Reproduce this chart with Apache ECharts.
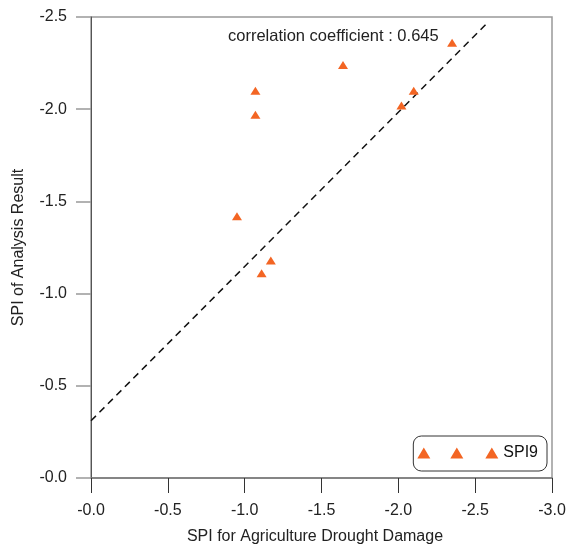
<!DOCTYPE html>
<html>
<head>
<meta charset="utf-8">
<script src="https://cdn.jsdelivr.net/npm/echarts@6/dist/echarts.min.js"></script>
<style>
  html, body { margin: 0; padding: 0; background: #fff; }
  #chart { width: 568px; height: 548px; }
</style>
</head>
<body>
<div id="chart"></div>
<script>
// SPI for agriculture drought damage (x) vs SPI of analysis result (y)
const damageSPI = [-1.07, -1.07, -0.95, -1.17, -1.11, -1.64, -2.35, -2.10, -2.02];
const analysisSPI = [-2.10, -1.97, -1.42, -1.18, -1.11, -2.24, -2.36, -2.10, -2.02];
// dashed fit line end points
const fitX = [0, -2.57];
const fitY = [-0.31, -2.46];
const tickValues = [0, -0.5, -1.0, -1.5, -2.0, -2.5, -3.0];
const seriesName = 'SPI9';
const correlationText = 'correlation coefficient : 0.645';

const FONT = '"Liberation Sans", Arial, sans-serif';
const FS = 16;
const ORANGE = '#F36523';
const fmt = v => '-' + Math.abs(v).toFixed(1);

const chart = echarts.init(document.getElementById('chart'));
chart.setOption({
  animation: false,
  backgroundColor: '#fff',
  textStyle: { fontFamily: FONT },
  title: {
    text: correlationText,
    left: 223, top: 23,
    textStyle: { fontFamily: FONT, fontSize: 16.5, fontWeight: 'normal', color: '#222' }
  },
  grid: {
    left: 91, right: 16, top: 17, bottom: 70,
    containLabel: false, outerBoundsMode: 'none',
    show: true, borderColor: '#999', borderWidth: 1.5, backgroundColor: 'transparent'
  },
  legend: {
    right: 21, bottom: 77,
    padding: [9, 9, 10, 4],
    borderColor: '#333', borderWidth: 1, borderRadius: 8,
    itemWidth: 81, itemHeight: 11,
    icon: 'path://M0,11L6.5,0L13,11Z M33,11L39.5,0L46,11Z M68,11L74.5,0L81,11Z',
    textStyle: { fontFamily: FONT, fontSize: FS, color: '#111' },
    data: [seriesName]
  },
  xAxis: {
    type: 'value', inverse: true, min: -3, max: 0, interval: 0.5,
    name: 'SPI for Agriculture Drought Damage', nameLocation: 'middle', nameGap: 51,
    nameTextStyle: { fontFamily: FONT, fontSize: FS, color: '#222', padding: [0, 13, 0, 0] },
    axisLine: { show: true, lineStyle: { color: '#777', width: 1.5 } },
    axisTick: { show: true, inside: false, length: 15, lineStyle: { color: '#333', width: 1 } },
    axisLabel: { formatter: fmt, margin: 25, fontFamily: FONT, fontSize: FS, color: '#222' },
    splitLine: { show: false }
  },
  yAxis: {
    type: 'value', inverse: true, min: -2.5, max: 0, interval: 0.5,
    name: 'SPI of Analysis Result', nameLocation: 'middle', nameGap: 64,
    nameTextStyle: { fontFamily: FONT, fontSize: FS, color: '#222' },
    axisLine: { show: true, lineStyle: { color: '#555', width: 1 } },
    axisTick: { show: true, inside: false, length: 15, lineStyle: { color: '#999', width: 1.5 } },
    axisLabel: { formatter: fmt, margin: 24, fontFamily: FONT, fontSize: FS, color: '#222' },
    splitLine: { show: false }
  },
  series: [
    {
      type: 'line',
      data: fitX.map((x, i) => [x, fitY[i]]),
      showSymbol: false, symbol: 'none', silent: true,
      lineStyle: { color: '#111', width: 1.5, type: [7, 5] },
      z: 1
    },
    {
      name: seriesName,
      type: 'scatter',
      symbol: 'triangle',
      symbolSize: [10, 8],
      itemStyle: { color: ORANGE, opacity: 1 },
      data: damageSPI.map((x, i) => [x, analysisSPI[i]]),
      z: 3
    }
  ]
});
</script>
</body>
</html>
